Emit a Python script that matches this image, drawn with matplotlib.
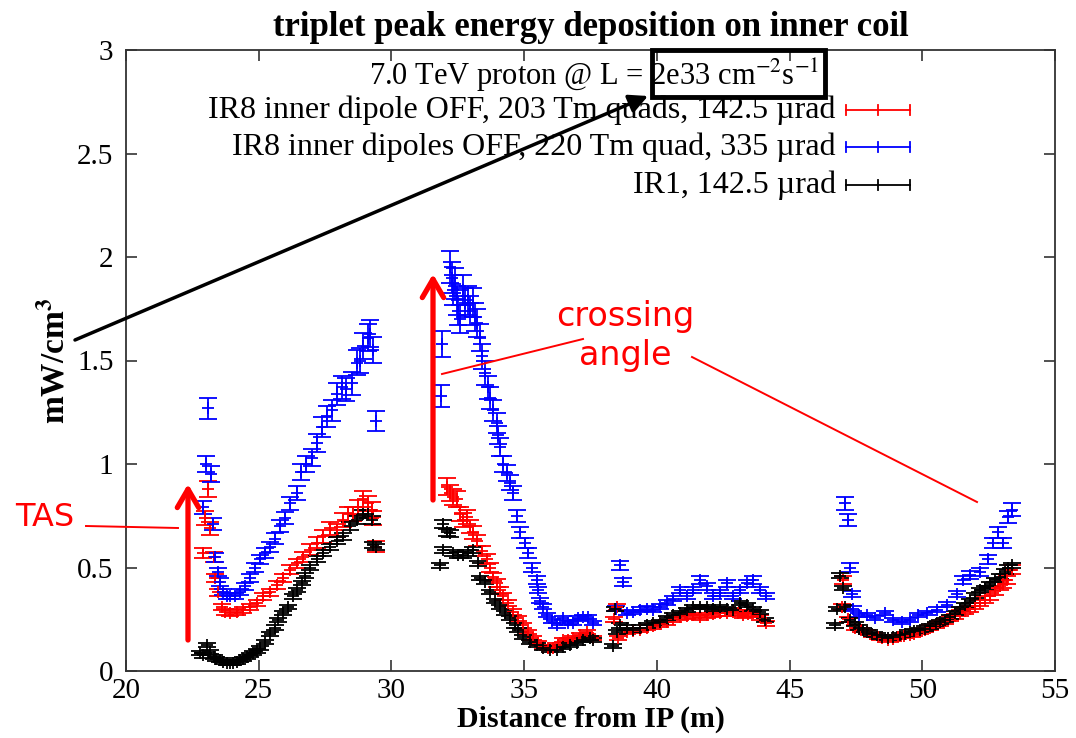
import numpy as np
import matplotlib.pyplot as plt
from matplotlib.patches import Rectangle
from matplotlib.lines import Line2D

plt.rcParams['font.family'] = ['Liberation Serif', 'DejaVu Serif']
plt.rcParams['mathtext.fontset'] = 'stix'

# ---- data (distance from IP in m, mW/cm3) ----
red_x = [22.89, 22.98, 23.1, 23.17, 23.3, 23.35, 23.47, 23.6, 23.73, 23.92, 24.17, 24.4,
         24.67, 24.92, 25.17, 25.43, 25.68, 25.92, 26.18, 26.43, 26.67, 26.93, 27.18, 27.42,
         27.69, 27.94, 28.18, 28.37, 28.55, 28.75, 28.93, 29.1, 29.26, 29.3, 29.4,
         32.08, 32.2, 32.33, 32.46, 32.58, 32.7, 32.84, 32.96, 33.07, 33.21, 33.4, 33.6,
         33.7, 33.83, 33.97, 34.1, 34.2, 34.4, 34.58, 34.77, 34.96, 35.15, 35.34, 35.52,
         35.71, 35.9, 36.1, 36.28, 36.47, 36.66, 36.84, 37.1, 37.36, 37.6,
         38.4, 38.49, 38.55, 38.87, 39.1, 39.37, 39.62, 39.86, 40.12, 40.37, 40.6, 40.87,
         41.13, 41.37, 41.63, 41.88, 42.1, 42.38, 42.63, 42.87, 43.05, 43.25, 43.45, 43.63,
         43.89, 44.13,
         46.97, 47.0, 47.2, 47.47, 47.7, 47.9, 48.1, 48.33, 48.5, 48.7, 48.9, 49.1, 49.3,
         49.54, 49.7, 49.9, 50.1, 50.3, 50.5, 50.67, 50.85, 51.05, 51.25, 51.42, 51.6, 51.8,
         52.0, 52.18, 52.35, 52.55, 52.75, 52.93, 53.05, 53.18, 53.37]
red_y = [0.57, 0.74, 0.88, 0.69, 0.55, 0.45, 0.38, 0.31, 0.285, 0.28, 0.285, 0.295,
         0.31, 0.33, 0.36, 0.38, 0.415, 0.45, 0.49, 0.52, 0.55, 0.585, 0.62, 0.65,
         0.69, 0.68, 0.73, 0.76, 0.76, 0.79, 0.83, 0.81, 0.78, 0.74, 0.60,
         0.89, 0.86, 0.84, 0.83, 0.76, 0.73, 0.745, 0.70, 0.67, 0.63, 0.58, 0.54,
         0.50, 0.455, 0.425, 0.39, 0.36, 0.33, 0.285, 0.255, 0.22, 0.19, 0.16, 0.135,
         0.116, 0.11, 0.11, 0.125, 0.15, 0.15, 0.16, 0.175, 0.19, 0.16,
         0.25, 0.31, 0.16, 0.19, 0.195, 0.20, 0.21, 0.215, 0.225, 0.235, 0.25, 0.26,
         0.265, 0.27, 0.26, 0.27, 0.275, 0.28, 0.28, 0.285, 0.28, 0.27, 0.275, 0.28,
         0.26, 0.23,
         0.31, 0.44, 0.25, 0.21, 0.20, 0.19, 0.175, 0.165, 0.16, 0.15, 0.155, 0.165, 0.17,
         0.175, 0.18, 0.19, 0.20, 0.21, 0.22, 0.23, 0.24, 0.255, 0.265, 0.28, 0.29, 0.30,
         0.315, 0.33, 0.345, 0.36, 0.385, 0.41, 0.42, 0.44, 0.49]

blue_x = [22.9, 23.0, 23.1, 23.2, 23.27, 23.35, 23.47, 23.55, 23.65, 23.8, 23.92, 24.1,
          24.3, 24.48, 24.67, 24.86, 25.05, 25.24, 25.43, 25.6, 25.8, 26.0, 26.18, 26.43,
          26.6, 26.8, 27.0, 27.2, 27.37, 27.56, 27.75, 27.94, 28.13, 28.3, 28.5, 28.7,
          28.8, 28.93, 29.1, 29.2, 29.3, 29.4,
          31.85, 31.9, 32.2, 32.27, 32.33, 32.4, 32.46, 32.5, 32.58, 32.7, 32.77, 32.89,
          32.96, 33.07, 33.15, 33.21, 33.34, 33.4, 33.53, 33.64, 33.72, 33.83, 33.97, 34.02,
          34.1, 34.2, 34.34, 34.47, 34.58, 34.72, 34.85, 35.03, 35.15, 35.29, 35.47, 35.52,
          35.6, 35.71, 35.85, 36.04, 36.23, 36.47, 36.66, 36.84, 37.03, 37.22, 37.4, 37.6,
          38.45, 38.6, 38.72, 38.87, 39.1, 39.37, 39.62, 39.86, 40.12, 40.37, 40.6, 40.87,
          41.13, 41.37, 41.63, 41.88, 42.1, 42.38, 42.63, 42.87, 43.13, 43.39, 43.63, 43.89,
          44.13,
          47.1, 47.2, 47.28, 47.34, 47.4, 47.6, 47.9, 48.2, 48.6, 48.9, 49.22, 49.54, 49.84,
          50.17, 50.55, 50.92, 51.3, 51.54, 51.8, 52.18, 52.48, 52.67, 52.86, 53.05, 53.24,
          53.37]
blue_y = [0.79, 1.00, 1.27, 0.95, 0.71, 0.55, 0.48, 0.43, 0.38, 0.36, 0.36, 0.36,
          0.38, 0.41, 0.45, 0.50, 0.54, 0.57, 0.60, 0.64, 0.70, 0.74, 0.81, 0.86,
          0.96, 1.00, 1.03, 1.10, 1.18, 1.23, 1.26, 1.34, 1.37, 1.36, 1.39, 1.49,
          1.50, 1.57, 1.61, 1.63, 1.55, 1.21,
          1.33, 1.58, 1.95, 1.90, 1.84, 1.87, 1.79, 1.74, 1.70, 1.84, 1.78, 1.79,
          1.74, 1.78, 1.71, 1.68, 1.61, 1.52, 1.44, 1.37, 1.32, 1.26, 1.20, 1.14,
          1.08, 1.00, 0.955, 0.91, 0.86, 0.75, 0.67, 0.62, 0.57, 0.50, 0.44, 0.39,
          0.34, 0.31, 0.27, 0.24, 0.22, 0.255, 0.23, 0.23, 0.255, 0.26, 0.26, 0.23,
          0.30, 0.51, 0.43, 0.28, 0.285, 0.295, 0.30, 0.295, 0.31, 0.33, 0.35, 0.39,
          0.36, 0.39, 0.44, 0.41, 0.36, 0.375, 0.425, 0.36, 0.39, 0.425, 0.44, 0.39,
          0.36,
          0.81, 0.73, 0.50, 0.37, 0.30, 0.27, 0.27, 0.255, 0.28, 0.245, 0.235, 0.245, 0.27,
          0.28, 0.295, 0.32, 0.37, 0.44, 0.465, 0.48, 0.54, 0.62, 0.67, 0.62, 0.745,
          0.78]

black_x = [22.79, 22.9, 23.04, 23.17, 23.3, 23.4, 23.54, 23.67, 23.8, 23.92, 24.03, 24.17,
           24.3, 24.42, 24.55, 24.67, 24.8, 24.92, 25.05, 25.24, 25.43, 25.6, 25.74, 25.92,
           26.1, 26.3, 26.43, 26.62, 26.74, 26.93, 27.18, 27.42, 27.69, 27.94, 28.18, 28.45,
           28.7, 28.93, 29.1, 29.26, 29.3, 29.4,
           31.83, 31.95, 31.95, 32.08, 32.2, 32.33, 32.5, 32.7, 32.89, 33.07, 33.26, 33.34,
           33.53, 33.72, 33.9, 34.1, 34.28, 34.47, 34.66, 34.77, 34.96, 35.22, 35.47, 35.71,
           35.97, 36.23, 36.47, 36.73, 36.98, 37.22, 37.47, 37.6,
           38.35, 38.42, 38.49, 38.6, 38.87, 39.1, 39.37, 39.62, 39.86, 40.12, 40.37, 40.6,
           40.87, 41.13, 41.37, 41.63, 41.88, 42.1, 42.38, 42.63, 42.87, 43.13, 43.39, 43.63,
           43.89, 44.08,
           46.71, 46.78, 46.9, 47.0, 47.1, 47.28, 47.45, 47.6, 47.75, 47.9, 48.1, 48.28,
           48.5, 48.7, 48.9, 49.16, 49.35, 49.54, 49.7, 49.9, 50.1, 50.3, 50.5, 50.67, 50.85,
           51.05, 51.25, 51.42, 51.6, 51.8, 52.0, 52.18, 52.35, 52.55, 52.75, 52.93, 53.1,
           53.24, 53.37]
black_y = [0.087, 0.075, 0.125, 0.09, 0.068, 0.06, 0.053, 0.045, 0.038, 0.038, 0.038, 0.045,
           0.053, 0.06, 0.068, 0.078, 0.087, 0.098, 0.11, 0.14, 0.18, 0.21, 0.245, 0.28,
           0.31, 0.36, 0.39, 0.425, 0.46, 0.50, 0.54, 0.57, 0.60, 0.63, 0.65, 0.70,
           0.73, 0.76, 0.76, 0.73, 0.61, 0.60,
           0.51, 0.585, 0.71, 0.67, 0.665, 0.57, 0.56, 0.56, 0.57, 0.585, 0.52, 0.45,
           0.43, 0.38, 0.34, 0.31, 0.28, 0.255, 0.22, 0.20, 0.165, 0.14, 0.125, 0.11,
           0.10, 0.10, 0.116, 0.125, 0.135, 0.15, 0.16, 0.15,
           0.12, 0.30, 0.19, 0.22, 0.21, 0.20, 0.21, 0.22, 0.23, 0.235, 0.255, 0.27,
           0.28, 0.295, 0.31, 0.31, 0.31, 0.30, 0.31, 0.30, 0.295, 0.33, 0.32, 0.30,
           0.285, 0.245,
           0.22, 0.30, 0.46, 0.40, 0.31, 0.245, 0.225, 0.21, 0.20, 0.19, 0.18, 0.175,
           0.165, 0.16, 0.165, 0.175, 0.18, 0.19, 0.195, 0.20, 0.205, 0.215, 0.225, 0.235, 0.245,
           0.26, 0.28, 0.30, 0.32, 0.34, 0.365, 0.39, 0.40, 0.42, 0.44, 0.455, 0.48,
           0.50, 0.51]

# relative size of the error bars, as seen on the picture
red_rel_err = 0.045
blue_rel_err = 0.04
black_rel_err = 0.025

labels = ['IR8 inner dipole OFF, 203 Tm quads, 142.5 \u00b5rad',
          'IR8 inner dipoles OFF, 220 Tm quad, 335 \u00b5rad',
          'IR1, 142.5 \u00b5rad']
colors = ['red', 'blue', 'black']

W, H = 1076, 738


def fx(px):
    return px / W


def fy(py):
    return 1 - py / H


fig = plt.figure(figsize=(W / 100, H / 100), dpi=100)
ax = fig.add_axes([fx(126), fy(671), (1055 - 126) / W, (671 - 50) / H])

series = [(red_x, red_y, red_rel_err), (blue_x, blue_y, blue_rel_err),
          (black_x, black_y, black_rel_err)]
for (xs, ys, rel), c in zip(series, colors):
    ys = np.array(ys)
    err = np.maximum(rel * ys, 0.01)
    ax.errorbar(xs, ys, yerr=err, fmt='+', color=c, ms=9, mew=1.3,
                elinewidth=1.3, capsize=6.5, capthick=1.3)

ax.set_xlim(20, 55)
ax.set_ylim(0, 3)
ax.set_xticks(range(20, 56, 5))
ax.set_yticks([0, 0.5, 1, 1.5, 2, 2.5, 3])
ax.set_yticklabels(['0', '0.5', '1', '1.5', '2', '2.5', '3'])
ax.tick_params(direction='in', length=8, width=1.2, top=True, right=True,
               labelsize=21, pad=9, colors='#333333', labelcolor='black')
ax.tick_params(axis='x', pad=5)
for s in ax.spines.values():
    s.set_linewidth(1.3)
    s.set_color('#333333')

ax.set_title('triplet peak energy deposition on inner coil', fontsize=25,
             fontweight='bold', pad=10)
ax.set_xlabel('Distance from IP (m)', fontsize=21.5, fontweight='bold', labelpad=1)
ax.set_ylabel(r'mW/cm$^{\mathbf{3}}$', fontsize=24, fontweight='bold', labelpad=4)

# legend, drawn the gnuplot way: text on the left, sample on the right
fig.text(fx(819), fy(75), r'7.0 TeV proton @ L = 2e33 cm$^{-2}$s$^{-1}$',
         ha='right', va='center', fontsize=22)
rows = [110, 147, 185]
for lab, c, py in zip(labels, colors, rows):
    fig.text(fx(836), fy(py), lab, ha='right', va='center', fontsize=23)
    fig.add_artist(Line2D([fx(846), fx(910)], [fy(py), fy(py)], color=c, lw=1.3))
    for px in (846, 878, 910):
        fig.add_artist(Line2D([fx(px), fx(px)], [fy(py - 5), fy(py + 5)], color=c, lw=1.3))

# black box round the luminosity and arrow pointing to it
fig.add_artist(Rectangle((fx(652), fy(97)), (825 - 652) / W, (97 - 50) / H,
                         fill=False, ec='black', lw=3.5, transform=fig.transFigure))
ax.annotate('', xy=(fx(648), fy(96)), xycoords='figure fraction',
            xytext=(fx(75), fy(340)), textcoords='figure fraction',
            arrowprops=dict(arrowstyle='-|>', color='black', lw=2.5, mutation_scale=28,
                            shrinkA=0, shrinkB=0))

# red annotations
red = '#ff0000'
fig.text(fx(45), fy(518), 'TAS', color=red, fontsize=23, family='DejaVu Sans',
         ha='center', va='center')
fig.add_artist(Line2D([fx(86), fx(178)], [fy(526), fy(528)], color=red, lw=1.4))
ax.annotate('', xy=(fx(188), fy(484)), xycoords='figure fraction',
            xytext=(fx(188), fy(640)), textcoords='figure fraction',
            arrowprops=dict(arrowstyle='->,head_length=0.6,head_width=0.35', color=red,
                            lw=3.8, mutation_scale=22, shrinkA=0, shrinkB=0))
ax.annotate('', xy=(fx(433), fy(274)), xycoords='figure fraction',
            xytext=(fx(433), fy(500)), textcoords='figure fraction',
            arrowprops=dict(arrowstyle='->,head_length=0.6,head_width=0.35', color=red,
                            lw=3.8, mutation_scale=22, shrinkA=0, shrinkB=0))
fig.text(fx(625), fy(336), 'crossing\nangle', color=red, fontsize=24,
         family='DejaVu Sans', ha='center', va='center', linespacing=1.2)
fig.add_artist(Line2D([fx(442), fx(583)], [fy(374), fy(339)], color=red, lw=1.4))
fig.add_artist(Line2D([fx(692), fx(977)], [fy(357), fy(502)], color=red, lw=1.4))

fig.savefig('out.png', dpi=100)
